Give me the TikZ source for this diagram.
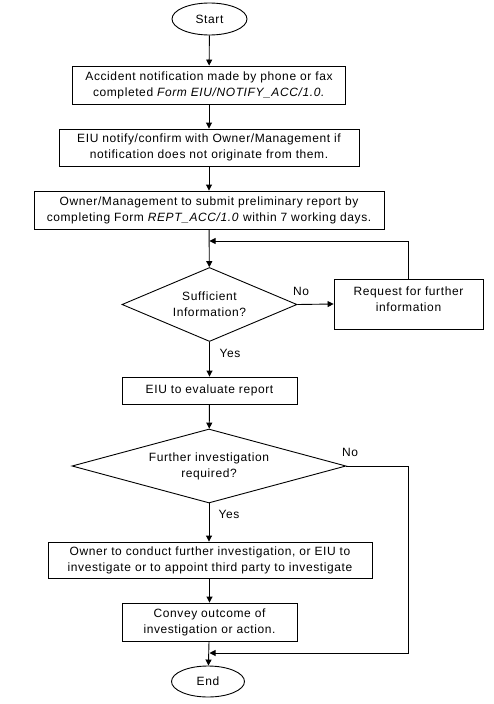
\documentclass[tikz,border=0pt]{standalone}
\usepackage{fontspec}
\setmainfont{Liberation Sans}[LetterSpace=5]
\usetikzlibrary{shapes.geometric,arrows.meta}
\begin{document}
\begin{tikzpicture}[x=1pt,y=-1pt,
  every node/.style={font=\fontsize{12}{16}\selectfont},
  box/.style={draw,line width=0.9pt,rectangle,inner sep=0pt,align=center},
  term/.style={draw,line width=0.9pt,ellipse,inner sep=0pt},
  dec/.style={draw,line width=0.9pt,diamond,inner sep=0pt,align=center},
  conn/.style={line width=0.9pt,-{Triangle[length=6pt,width=6pt]}},
  lbl/.style={inner sep=0pt}]
\useasboundingbox (0,0) rectangle (494,704);
\node[term,minimum width=75,minimum height=32] (start) at (209.5,19) {Start};
\node[box,minimum width=273,minimum height=38] (b1) at (209,85) {Accident notification made by phone or fax\\completed \textit{Form EIU/NOTIFY\_ACC/1.0.}};
\node[box,minimum width=300,minimum height=37] (b2) at (209,147.5) {EIU notify/confirm with Owner/Management if\\notification does not originate from them.};
\node[box,minimum width=350,minimum height=38] (b3) at (209,210) {Owner/Management to submit preliminary report by\\completing Form \textit{REPT\_ACC/1.0} within 7 working days.};
\node[dec,aspect=2.36,minimum width=175,minimum height=74] (d1) at (209.5,304.5) {Sufficient\\Information?};
\node[box,minimum width=149,minimum height=50] (req) at (408.5,304) {\raisebox{1pt}[0pt][0pt]{\begin{tabular}{@{}c@{}}Request for further\\information\end{tabular}}};
\node[box,minimum width=175,minimum height=27] (ev) at (209.5,390.5) {EIU to evaluate report};
\node[dec,aspect=3.7,minimum width=274,minimum height=74] (d2) at (209,466) {Further investigation\\required?};
\node[box,minimum width=324,minimum height=36] (own) at (210,560) {Owner to conduct further investigation, or EIU to\\investigate or to appoint third party to investigate};
\node[box,minimum width=175,minimum height=38] (cv) at (209.5,622) {Convey outcome of\\investigation or action.};
\node[term,minimum width=73,minimum height=31] (end) at (208,681.5) {End};
\draw[conn] (start) -- (b1);
\draw[conn] (b1) -- (b2);
\draw[conn] (b2) -- (b3);
\draw[conn] (b3) -- (d1);
\coordinate (fbt) at (408.5,241);
\coordinate (fbm) at (209.5,241);
\draw[conn] (req.north) -- (fbt) -- (fbm);
\draw[conn] (d1.east) -- (req.west);
\node[lbl] (no1) at (301,291) {No};
\draw[conn] (d1.south) -- (ev.north);
\node[lbl] (yes1) at (230,353) {Yes};
\draw[conn] (ev) -- (d2);
\draw[conn] (d2.south) -- (own.north -| d2.south);
\node[lbl] (yes2) at (229,514) {Yes};
\node[lbl] (no2) at (350,452) {No};
\draw[conn] (own.south -| cv.north) -- (cv.north);
\draw[conn] (cv) -- (end);
\coordinate (r1) at (408,466);
\coordinate (r2) at (408,653);
\coordinate (r3) at (209.5,653);
\draw[conn] (d2.east) -- (r1) -- (r2) -- (r3);
\end{tikzpicture}
\end{document}
